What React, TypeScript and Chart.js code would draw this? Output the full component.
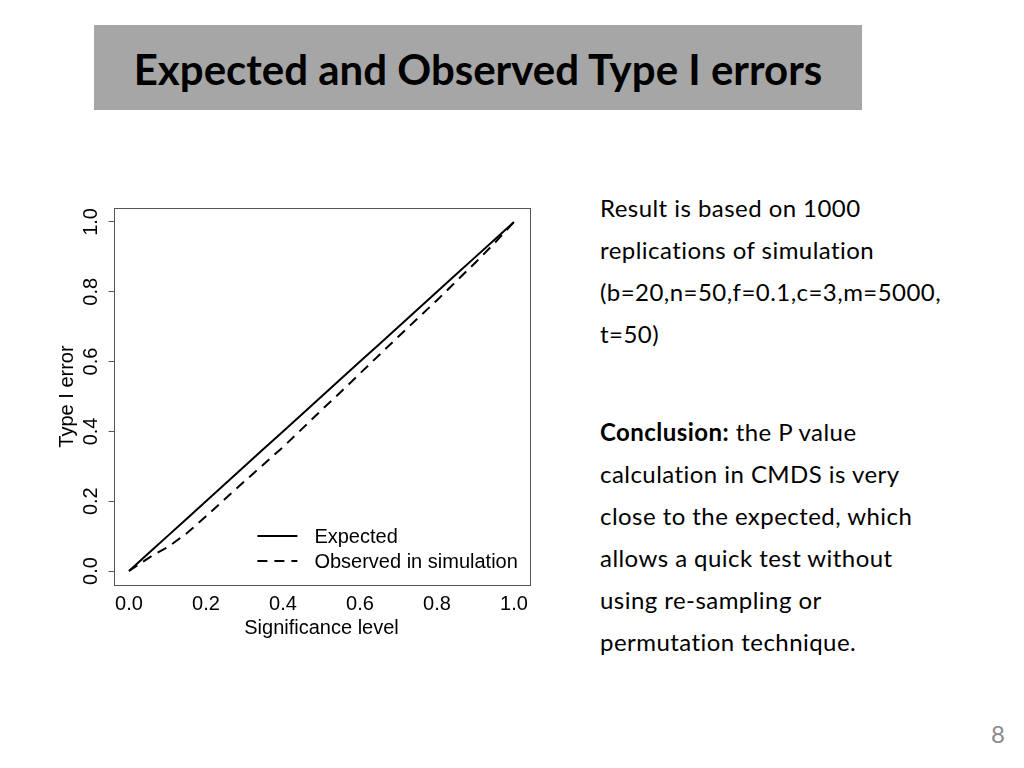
import React, { useEffect, useRef } from "react";
import { Chart, registerables } from "chart.js";

Chart.register(...registerables);

// ---- data ----
const significanceLevels = [0, 0.03, 0.06, 0.1, 0.15, 0.2, 0.25, 0.3, 0.35, 0.4, 0.45, 0.5, 0.55, 0.6, 0.65, 0.7, 0.75, 0.8, 0.85, 0.9, 0.95, 1.0];
const expectedError = [0, 0.03, 0.06, 0.1, 0.15, 0.2, 0.25, 0.3, 0.35, 0.4, 0.45, 0.5, 0.55, 0.6, 0.65, 0.7, 0.75, 0.8, 0.85, 0.9, 0.95, 1.0];
const observedError = [0, 0.022, 0.044, 0.068, 0.108, 0.157, 0.207, 0.257, 0.306, 0.355, 0.408, 0.461, 0.513, 0.566, 0.619, 0.672, 0.724, 0.776, 0.83, 0.884, 0.94, 1.0];
const xTicks = [0, 0.2, 0.4, 0.6, 0.8, 1.0];
const yTicks = [0, 0.2, 0.4, 0.6, 0.8, 1.0];
const seriesLabels = ["Expected", "Observed in simulation"];
const xTitle = "Significance level";
const yTitle = "Type I error";

const slideTitle = "Expected and Observed Type I errors";
const paragraph1 = ["Result is based on 1000", "replications of simulation", "(b=20,n=50,f=0.1,c=3,m=5000,", "t=50)"];
const conclusionLead = "Conclusion:";
const paragraph2 = [" the P value", "calculation in CMDS is very", "close to the expected, which", "allows a quick test without", "using re-sampling or", "permutation technique."];
const pageNumber = "8";

const CHART_FONT = "'Liberation Sans', Arial, Helvetica, sans-serif";

const framePlugin = {
  id: "frameAndLegend",
  afterDraw(chart: any) {
    const { ctx, chartArea: a } = chart;
    ctx.save();
    // box
    ctx.strokeStyle = "#555";
    ctx.lineWidth = 1;
    ctx.strokeRect(Math.round(a.left) + 0.5, Math.round(a.top) + 0.5, Math.round(a.right - a.left), Math.round(a.bottom - a.top));
    // legend (bottom right, no box)
    const ds = chart.data.datasets;
    ctx.font = `20px ${CHART_FONT}`;
    ctx.textBaseline = "middle";
    ctx.textAlign = "left";
    ctx.fillStyle = "#000";
    const rowYs = [a.bottom - 49, a.bottom - 24];
    ds.forEach((d: any, i: number) => {
      const y = rowYs[i];
      ctx.beginPath();
      ctx.strokeStyle = d.borderColor;
      ctx.lineWidth = d.borderWidth;
      ctx.setLineDash(d.borderDash || []);
      ctx.moveTo(a.right - 272, y);
      ctx.lineTo(a.right - 232, y);
      ctx.stroke();
      ctx.setLineDash([]);
      ctx.fillText(d.label, a.right - 215, y + 1);
    });
    ctx.restore();
  },
};

function TypeIChart() {
  const ref = useRef<HTMLCanvasElement>(null);
  useEffect(() => {
    if (!ref.current) return;
    const chart = new Chart(ref.current, {
      type: "line",
      data: {
        datasets: [
          {
            label: seriesLabels[0],
            data: significanceLevels.map((x, i) => ({ x, y: expectedError[i] })),
            borderColor: "#000",
            borderWidth: 2,
            pointRadius: 0,
            tension: 0,
            fill: false,
          },
          {
            label: seriesLabels[1],
            data: significanceLevels.map((x, i) => ({ x, y: observedError[i] })),
            borderColor: "#000",
            borderWidth: 2,
            borderDash: [10, 7],
            pointRadius: 0,
            tension: 0,
            fill: false,
          },
        ],
      },
      options: {
        animation: false,
        responsive: false,
        devicePixelRatio: 1,
        layout: { padding: { left: 0, top: 18, right: 10.6, bottom: 0 } },
        plugins: { legend: { display: false }, tooltip: { enabled: false } },
        scales: {
          x: {
            type: "linear",
            min: -0.04,
            max: 1.04,
            afterBuildTicks: (s: any) => {
              s.ticks = xTicks.map((v) => ({ value: v }));
            },
            afterFit: (s: any) => {
              s.height = 65;
            },
            grid: { display: false, drawTicks: false },
            border: { display: false },
            ticks: {
              color: "#000",
              padding: 7,
              font: { family: CHART_FONT, size: 20, lineHeight: 1.2 },
              callback: (v: any) => Number(v).toFixed(1),
              maxRotation: 0,
              minRotation: 0,
              autoSkip: false,
            },
            title: {
              display: true,
              text: xTitle,
              color: "#000",
              font: { family: CHART_FONT, size: 20, lineHeight: 1.2 },
              padding: { top: 0, bottom: 10 },
            },
          },
          y: {
            type: "linear",
            min: -0.04,
            max: 1.04,
            afterBuildTicks: (s: any) => {
              s.ticks = yTicks.map((v) => ({ value: v }));
            },
            afterFit: (s: any) => {
              s.width = 73.6;
            },
            grid: { display: true, drawOnChartArea: false, drawTicks: true, tickLength: 5, color: "#555" },
            border: { display: false },
            ticks: {
              color: "#000",
              padding: 3,
              crossAlign: "center",
              minRotation: 90,
              maxRotation: 90,
              font: { family: CHART_FONT, size: 20, lineHeight: 1.2 },
              callback: (v: any) => Number(v).toFixed(1),
              autoSkip: false,
            },
            title: {
              display: true,
              text: yTitle,
              color: "#000",
              font: { family: CHART_FONT, size: 20, lineHeight: 1.2 },
              padding: { top: 15, bottom: 0 },
            },
          },
        },
      },
      plugins: [framePlugin],
    } as any);
    return () => chart.destroy();
  }, []);
  return (
    <canvas
      ref={ref}
      width={500}
      height={460}
      style={{ position: "absolute", left: 40, top: 190, width: 500, height: 460 }}
    />
  );
}

export default function App() {
  const bodyFont = "Lato, 'Open Sans', 'Noto Sans', sans-serif";
  const paraStyle: React.CSSProperties = {
    position: "absolute",
    left: 600,
    fontFamily: bodyFont,
    fontSize: 24,
    letterSpacing: "0.45px",
    fontVariantLigatures: "none",
    lineHeight: "42px",
    color: "#000",
    whiteSpace: "pre",
  };
  return (
    <div
      style={{
        position: "absolute",
        left: 0,
        top: 0,
        width: 1024,
        height: 768,
        background: "#fff",
        overflow: "hidden",
      }}
    >
      <div
        style={{
          position: "absolute",
          left: 94,
          top: 25,
          width: 768,
          height: 85,
          background: "#A6A6A6",
          display: "flex",
          alignItems: "center",
          justifyContent: "center",
        }}
      >
        <span style={{ fontFamily: bodyFont, fontWeight: 700, fontSize: 42, color: "#000", whiteSpace: "nowrap", marginTop: 2 }}>
          {slideTitle}
        </span>
      </div>
      <TypeIChart />
      <div style={{ ...paraStyle, top: 187 }}>
        {paragraph1.map((l, i) => (
          <div key={i}>{l}</div>
        ))}
      </div>
      <div style={{ ...paraStyle, top: 411 }}>
        <div>
          <b>{conclusionLead}</b>
          {paragraph2[0]}
        </div>
        {paragraph2.slice(1).map((l, i) => (
          <div key={i}>{l}</div>
        ))}
      </div>
      <div
        style={{
          position: "absolute",
          left: 980,
          top: 719,
          width: 36,
          textAlign: "center",
          fontFamily: bodyFont,
          fontSize: 24,
          lineHeight: "30px",
          color: "#8B8B8B",
        }}
      >
        {pageNumber}
      </div>
    </div>
  );
}
